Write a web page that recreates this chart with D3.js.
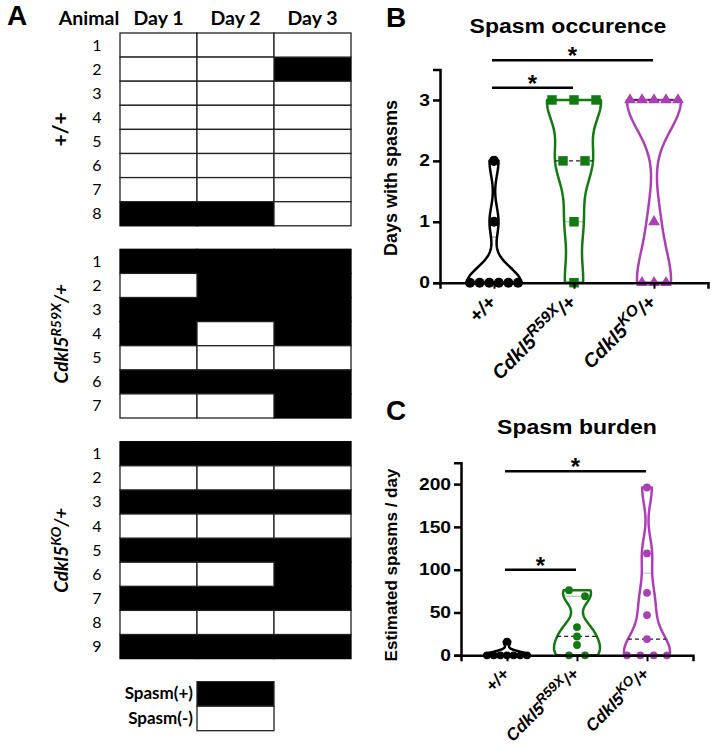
<!DOCTYPE html>
<html>
<head>
<meta charset="utf-8">
<title>Spasms</title>
<script src="https://cdn.jsdelivr.net/npm/d3@7"></script>
<style>
  body { margin: 0; background: #fff; }
  svg text { font-family: "Liberation Sans", Arial, sans-serif; fill: #000; }
  .calib { font-family: Lato, "Liberation Sans", sans-serif !important; }
</style>
</head>
<body>
<div id="fig"></div>
<script>
var width = 712, height = 751;

// Panel A: 1 = spasm seen that day
var days = ["Day 1", "Day 2", "Day 3"];
var wtRows   = [[0,0,0],[0,0,1],[0,0,0],[0,0,0],[0,0,0],[0,0,0],[0,0,0],[1,1,0]];
var r59xRows = [[1,1,1],[0,1,1],[1,1,1],[1,0,1],[0,0,0],[1,1,1],[0,0,1]];
var koRows   = [[1,1,1],[0,0,0],[1,1,1],[0,0,0],[1,1,1],[0,0,1],[1,1,1],[0,0,0],[1,1,1]];
var legendItems = ["Spasm(+)", "Spasm(-)"];
var legendFill = [1, 0];

// Panel C: estimated spasms per day
var wtBurden   = [0,0,0,0,0,0,0,16];
var r59xBurden = [76,69,33,22,12,0,0];
var koBurden   = [196,119,73,47,19,0,0,0,0];

var genotypes = ["wt", "r59x", "ko"];
var colors = ["#000000", "#137a13", "#ab40b3"];
var occTicks = [0, 1, 2, 3];
var burdenTicks = [0, 50, 100, 150, 200];

// significance bars: [from group, to group, height in data units]
var sigB = [[0, 1, 3.2], [0, 2, 3.65]];
var sigC = [[0, 1, 100], [0, 2, 215]];

// panel B values = days with spasms, from panel A
var occurrence = [wtRows, r59xRows, koRows].map(function(rows) {
  return rows.map(function(r) { return d3.sum(r); });
});
var burden = [wtBurden, r59xBurden, koBurden];

var svg = d3.select("#fig").append("svg")
  .attr("width", width).attr("height", height);

function stretch(sel, k) {
  sel.each(function() {
    var L = this.getComputedTextLength();
    d3.select(this).attr("textLength", L * k).attr("lengthAdjust", "spacingAndGlyphs");
  });
}

// genotype label with superscript
function genoLabel(t, g, size, sup) {
  if (g == 0) { t.append("tspan").text("+/+"); return; }
  t.append("tspan").text("Cdkl5");
  t.append("tspan").attr("font-size", sup).attr("dy", -size * 0.38)
    .text(g == 1 ? "R59X" : "KO");
  t.append("tspan").attr("dy", size * 0.38).text("/+");
}

/* ---------------- panel A ---------------- */
var A = svg.append("g");
A.append("text").attr("x", 7).attr("y", 25).attr("font-size", 28)
  .attr("font-weight", "bold").text("A");

var dayX = d3.scaleBand().domain(days).range([120, 351]);
var rowH = 24.1;
var groupTops = [33, 249.3, 441.7];

A.append("text").attr("class", "calib").attr("x", 89).attr("y", 25)
  .attr("text-anchor", "middle").attr("font-size", 19.5).attr("font-weight", "bold").text("Animal");
A.selectAll(".dayhead").data(days).enter().append("text")
  .attr("class", "calib")
  .attr("x", function(d) { return dayX(d) + dayX.bandwidth() / 2; })
  .attr("y", 25).attr("text-anchor", "middle")
  .attr("font-size", 19.5).attr("font-weight", "bold").text(function(d) { return d; });

[wtRows, r59xRows, koRows].forEach(function(rows, g) {
  var rowY = d3.scaleBand().domain(d3.range(1, rows.length + 1))
    .range([groupTops[g], groupTops[g] + rows.length * rowH]);
  var gg = A.append("g");
  var cells = [];
  rows.forEach(function(r, i) {
    r.forEach(function(v, j) { cells.push({ row: i + 1, day: days[j], v: v }); });
    gg.append("text").attr("class", "calib")
      .attr("x", 97).attr("y", rowY(i + 1) + rowY.bandwidth() / 2 + 5.5)
      .attr("text-anchor", "middle").attr("font-size", 16).text(i + 1);
  });
  // black cells first, white cells with their borders on top
  cells.sort(function(a, b) { return b.v - a.v; });
  gg.selectAll("rect").data(cells).enter().append("rect")
    .attr("x", function(d) { return dayX(d.day); })
    .attr("y", function(d) { return rowY(d.row); })
    .attr("width", dayX.bandwidth())
    .attr("height", rowY.bandwidth())
    .attr("fill", function(d) { return d.v ? "#000" : "#fff"; })
    .attr("stroke", function(d) { return d.v ? "#000" : "#222"; })
    .attr("stroke-width", 1.3);
  var cy = groupTops[g] + rows.length * rowH / 2;
  var t = gg.append("text").attr("class", "calib")
    .attr("transform", "translate(68," + cy + ") rotate(-90)")
    .attr("text-anchor", "middle").attr("font-weight", "bold")
    .attr("font-style", g ? "italic" : "normal").attr("font-size", g ? 19 : 21);
  genoLabel(t, g, 19, 14);
});

var legY = d3.scaleBand().domain(legendItems).range([681.7, 730.7]);
A.selectAll(".legbox").data(legendItems).enter().append("rect")
  .attr("x", dayX("Day 2")).attr("y", function(d) { return legY(d); })
  .attr("width", dayX.bandwidth()).attr("height", legY.bandwidth())
  .attr("fill", function(d, i) { return legendFill[i] ? "#000" : "#fff"; })
  .attr("stroke", "#222").attr("stroke-width", 1.3);
A.selectAll(".legtxt").data(legendItems).enter().append("text")
  .attr("class", "calib")
  .attr("x", 193).attr("y", function(d) { return legY(d) + legY.bandwidth() / 2 + 5.5; })
  .attr("text-anchor", "end").attr("font-size", 17).attr("font-weight", "bold")
  .text(function(d) { return d; });

/* ---------------- violin helpers ---------------- */
function kde(vals, h, t) {
  return d3.sum(vals, function(v) { return Math.exp(-0.5 * Math.pow((t - v) / h, 2)); });
}

function quart(vals, p) {
  var s = vals.slice().sort(d3.ascending);
  var pos = (s.length + 1) * p;
  var lo = Math.floor(pos), f = pos - lo;
  if (lo < 1) return s[0];
  if (lo >= s.length) return s[s.length - 1];
  return s[lo - 1] + f * (s[lo] - s[lo - 1]);
}

function swarm(vals, y, thresh, maxSp, maxSpan) {
  var sorted = vals.slice().sort(d3.descending);
  var cl = [];
  sorted.forEach(function(v) {
    var c = cl[cl.length - 1];
    if (c && Math.abs(y(c[0]) - y(v)) < thresh) c.push(v); else cl.push([v]);
  });
  var maxN = d3.max(cl, function(c) { return c.length; });
  var sp = maxN > 1 ? Math.min(maxSp, maxSpan / (maxN - 1)) : 0;
  var pts = [];
  cl.forEach(function(c) {
    c.forEach(function(v, i) { pts.push({ v: v, dx: (i - (c.length - 1) / 2) * sp }); });
  });
  return pts;
}

function violinPanel(o) {
  var g = svg.append("g");
  var x = d3.scalePoint().domain(d3.range(3)).range(o.xr).padding(o.pad);
  var y = d3.scaleLinear().domain(o.yd).range(o.yr);

  g.append("text").attr("x", o.letter[0]).attr("y", o.letter[1]).attr("font-size", 28)
    .attr("font-weight", "bold").text(o.letterTxt);
  var title = g.append("text").attr("x", o.title[0]).attr("y", o.title[1])
    .attr("text-anchor", "middle").attr("font-size", 20).attr("font-weight", "bold")
    .text(o.titleTxt);
  stretch(title, 1.15);

  o.data.forEach(function(vals, k) {
    var cx = x(k), h = o.bw[k];
    var lo = d3.min(vals), hi = d3.max(vals), n = 120;
    var ts = d3.range(n + 1).map(function(i) { return lo + (hi - lo) * i / n; });
    var dens = ts.map(function(t) { return kde(vals, h, t); });
    var maxD = d3.max(dens);
    var hw = function(t) { return kde(vals, h, t) / maxD * o.maxHalf; };
    var pts = ts.map(function(t, i) { return [cx + dens[i] / maxD * o.maxHalf, y(t)]; });
    var left = ts.map(function(t, i) { return [cx - dens[i] / maxD * o.maxHalf, y(t)]; }).reverse();
    g.append("path").attr("d", d3.line()(pts.concat(left)) + "Z")
      .attr("fill", "#fff").attr("stroke", colors[k]).attr("stroke-width", 2.5)
      .attr("stroke-linejoin", "round");

    [0.25, 0.75].forEach(function(p) {
      var q = quart(vals, p), w = hw(q);
      g.append("line").attr("x1", cx - w).attr("x2", cx + w)
        .attr("y1", y(q)).attr("y2", y(q))
        .attr("stroke", colors[k]).attr("stroke-opacity", 0.45).attr("stroke-width", 1);
    });
    var med = quart(vals, 0.5), wm = hw(med);
    g.append("line").attr("x1", cx - wm).attr("x2", cx + wm)
      .attr("y1", y(med)).attr("y2", y(med))
      .attr("stroke", "#222").attr("stroke-width", 1.2).attr("stroke-dasharray", "4,3");

    var sym = d3.symbol().type(o.symbols[k]).size(o.symSize[k]);
    g.selectAll(null).data(swarm(vals, y, o.thresh, o.maxSp, o.maxSpan)).enter()
      .append("path").attr("d", sym)
      .attr("transform", function(d) { return "translate(" + (cx + d.dx) + "," + y(d.v) + ")"; })
      .attr("fill", colors[k]);
  });

  // axes
  var ya = g.append("g").attr("transform", "translate(" + o.xr[0] + ",0)")
    .call(d3.axisLeft(y).tickValues(o.ticks).tickFormat(d3.format("d"))
      .tickSizeOuter(0).tickSize(7).tickPadding(3));
  ya.select(".domain").attr("stroke-width", 2.5);
  ya.selectAll(".tick line").attr("stroke-width", 2.5);
  ya.selectAll(".tick text").attr("font-size", 16).attr("font-weight", "bold")
    .attr("font-family", "Liberation Sans, Arial, sans-serif").attr("fill", "#000");
  stretch(ya.selectAll(".tick text"), 1.2);

  var xa = g.append("g").attr("transform", "translate(0," + o.yr[0] + ")")
    .call(d3.axisBottom(x).tickSizeOuter(0).tickSize(6).tickFormat(""));
  xa.select(".domain").attr("stroke-width", 2.5);
  xa.selectAll(".tick line").attr("stroke-width", 2);

  g.selectAll(null).data(d3.range(3)).enter().append("text")
    .attr("transform", function(k) {
      return "translate(" + (x(k) + o.lab[0]) + "," + (o.yr[0] + o.lab[1]) + ") rotate(-45)";
    })
    .attr("text-anchor", "end").attr("font-size", o.labSize).attr("font-weight", "bold")
    .attr("font-style", "italic")
    .each(function(k) { genoLabel(d3.select(this), k, o.labSize, o.labSize * 0.8); });

  g.append("text").attr("transform", "translate(" + o.ylab[0] + "," + o.ylab[1] + ") rotate(-90)")
    .attr("text-anchor", "middle").attr("font-size", o.ylabSize).attr("font-weight", "bold")
    .text(o.ylabTxt);

  // significance
  o.sig.forEach(function(s) {
    var x1 = x(s[0]) - 2, x2 = x(s[1]) - 1, yy = y(s[2]);
    g.append("line").attr("x1", x1).attr("x2", x2).attr("y1", yy).attr("y2", yy)
      .attr("stroke", "#000").attr("stroke-width", 2.5);
    g.append("text").attr("x", (x1 + x2) / 2).attr("y", yy + 4)
      .attr("text-anchor", "middle").attr("font-size", 24).attr("font-weight", "bold").text("*");
  });
}

violinPanel({
  data: occurrence, letterTxt: "B", letter: [386, 27],
  titleTxt: "Spasm occurence", title: [568, 33],
  xr: [440, 708], pad: 0.675, yd: [0, 3.5], yr: [282.7, 69.5], ticks: occTicks,
  bw: [0.25, 0.4, 0.5], maxHalf: 27,
  symbols: [d3.symbolCircle, d3.symbolSquare, d3.symbolTriangle], symSize: [80, 90, 60],
  thresh: 9, maxSp: 22, maxSpan: 48,
  lab: [3, 21], labSize: 19.5,
  ylab: [397, 178], ylabSize: 18, ylabTxt: "Days with spasms",
  sig: sigB
});

violinPanel({
  data: burden, letterTxt: "C", letter: [386, 420],
  titleTxt: "Spasm burden", title: [577, 434],
  xr: [461, 693], pad: 0.657, yd: [0, 225], yr: [655.3, 462.7], ticks: burdenTicks,
  bw: [4, 12, 20], maxHalf: 23,
  symbols: [d3.symbolCircle, d3.symbolCircle, d3.symbolCircle], symSize: [48, 48, 48],
  thresh: 8, maxSp: 16, maxSpan: 40,
  lab: [3, 20], labSize: 17,
  ylab: [397, 565], ylabSize: 17, ylabTxt: "Estimated spasms / day",
  sig: sigC
});
</script>
</body>
</html>
